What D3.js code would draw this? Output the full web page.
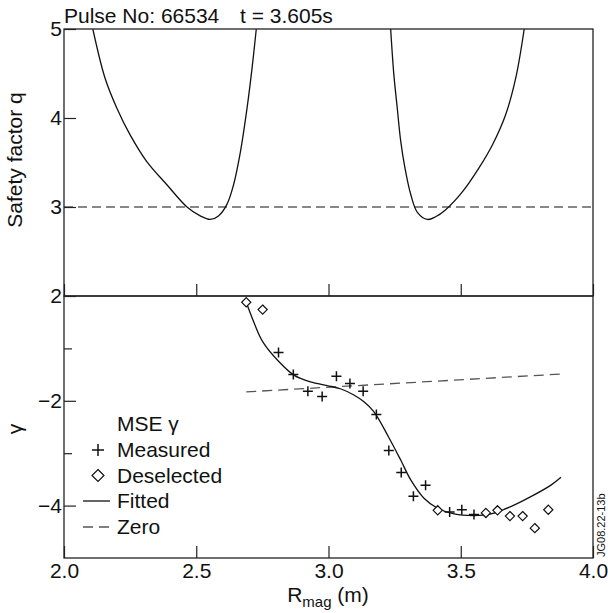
<!DOCTYPE html>
<html lang="en">
<head>
  <meta charset="UTF-8">
  <title>Pulse 66534 - q profile and MSE gamma</title>
  <style>
    body { margin: 0; background: #fff; }
    svg { font-family: "Liberation Sans", Arial, sans-serif; }
    .frame { fill: none; stroke: #222; stroke-width: 1.3px; }
    .axis text { font-family: "Liberation Sans", Arial, sans-serif; font-size: 21px; fill: #111; }
    .axis line { stroke: #222; stroke-width: 1.2px; }
    .q, .fit { fill: none; stroke: #111; stroke-width: 1.3px; }
    .rational { fill: none; stroke: #111; stroke-width: 1.2px; stroke-dasharray: 9 5; }
    .zero { fill: none; stroke: #555; stroke-width: 1.3px; stroke-dasharray: 10 6; }
    .meas { fill: none; stroke: #111; stroke-width: 1.5px; }
    .desel { fill: #fff; stroke: #111; stroke-width: 1.2px; }
    .label { font-size: 21px; fill: #111; }
  </style>
</head>
<body>
  <script src="https://cdn.jsdelivr.net/npm/d3@7"></script>
  <script>
    // q profile, high field side and low field side branches [R, q]
    const qInner = [
      [2.109, 5.0], [2.155, 4.45], [2.200, 4.11], [2.250, 3.81], [2.313, 3.51],
      [2.389, 3.25], [2.465, 3.00], [2.515, 2.90], [2.553, 2.86], [2.584, 2.90],
      [2.616, 3.03], [2.641, 3.25], [2.667, 3.62], [2.692, 4.11], [2.711, 4.56], [2.727, 5.0]
    ];
    const qOuter = [
      [3.235, 5.0], [3.247, 4.49], [3.260, 4.11], [3.273, 3.74], [3.289, 3.44],
      [3.311, 3.14], [3.336, 2.94], [3.374, 2.86], [3.405, 2.89], [3.443, 2.97],
      [3.506, 3.17], [3.569, 3.44], [3.620, 3.70], [3.670, 4.04], [3.708, 4.45], [3.740, 5.0]
    ];
    const qRational = 3;

    // MSE gamma [R, gamma]
    const measured = [
      [2.811, -1.08], [2.867, -1.50], [2.922, -1.82], [2.976, -1.92], [3.030, -1.53],
      [3.081, -1.67], [3.131, -1.82], [3.181, -2.26], [3.228, -2.95], [3.275, -3.37],
      [3.321, -3.82], [3.367, -3.61], [3.458, -4.12], [3.504, -4.08], [3.550, -4.17]
    ];
    const deselected = [
      [2.689, -0.12], [2.751, -0.26], [3.413, -4.09], [3.595, -4.14], [3.639, -4.09],
      [3.686, -4.20], [3.734, -4.20], [3.780, -4.43], [3.831, -4.08]
    ];
    const fitted = [
      [2.689, -0.12], [2.717, -0.49], [2.751, -0.87], [2.812, -1.25], [2.869, -1.51],
      [2.932, -1.64], [2.995, -1.71], [3.045, -1.77], [3.096, -1.89], [3.134, -2.02],
      [3.172, -2.21], [3.227, -2.69], [3.273, -3.13], [3.311, -3.51], [3.361, -3.86],
      [3.412, -4.05], [3.475, -4.16], [3.550, -4.19], [3.614, -4.16], [3.689, -4.02],
      [3.765, -3.83], [3.841, -3.61], [3.879, -3.46]
    ];
    const zeroLine = [[2.689, -1.83], [3.879, -1.49]];

    const xTicks = [2.0, 2.5, 3.0, 3.5, 4.0];
    const qTicks = [2, 3, 4, 5];
    const gMajor = [-4, -2];
    const gMinor = [-3, -1];
    const legendItems = ['Measured', 'Deselected', 'Fitted', 'Zero'];

    const width = 608, height = 613;
    const x = d3.scaleLinear().domain([2, 4]).range([64, 593]);
    const yq = d3.scaleLinear().domain([2, 5]).range([296, 29]);
    const yg = d3.scaleLinear().domain([-5, 0]).range([558, 296]);

    const svg = d3.select('body').append('svg')
      .attr('width', width).attr('height', height);

    svg.append('clipPath').attr('id', 'clipTop')
      .append('rect')
      .attr('x', x(2)).attr('y', yq(5))
      .attr('width', x(4) - x(2)).attr('height', yq(2) - yq(5));

    // top panel
    const topPanel = svg.append('g').attr('clip-path', 'url(#clipTop)');
    topPanel.append('line').attr('class', 'rational')
      .attr('x1', x(2)).attr('x2', x(4))
      .attr('y1', yq(qRational)).attr('y2', yq(qRational));
    const qLine = d3.line().curve(d3.curveCatmullRom.alpha(0.5))
      .x(d => x(d[0])).y(d => yq(d[1]));
    topPanel.selectAll('path.q').data([qInner, qOuter]).enter().append('path')
      .attr('class', 'q')
      .attr('d', d => qLine(d));

    // bottom panel
    const gLine = d3.line().curve(d3.curveCatmullRom.alpha(0.5))
      .x(d => x(d[0])).y(d => yg(d[1]));
    svg.append('path').attr('class', 'zero').attr('d', d3.line().x(d => x(d[0])).y(d => yg(d[1]))(zeroLine));
    svg.append('path').attr('class', 'fit').attr('d', gLine(fitted));

    const cross = 'M-5,0H5M0,-5V5';
    const diamond = 'M0,-4.6L4.6,0L0,4.6L-4.6,0Z';
    svg.append('g').selectAll('path')
      .data(measured).enter().append('path')
      .attr('class', 'meas')
      .attr('transform', d => `translate(${x(d[0])},${yg(d[1])})`)
      .attr('d', cross);
    svg.append('g').selectAll('path')
      .data(deselected).enter().append('path')
      .attr('class', 'desel')
      .attr('transform', d => `translate(${x(d[0])},${yg(d[1])})`)
      .attr('d', diamond);

    // frames
    svg.append('rect').attr('class', 'frame')
      .attr('x', x(2)).attr('y', yq(5))
      .attr('width', x(4) - x(2)).attr('height', yq(2) - yq(5));
    svg.append('rect').attr('class', 'frame')
      .attr('x', x(2)).attr('y', yg(0))
      .attr('width', x(4) - x(2)).attr('height', yg(-5) - yg(0));

    // axes
    const fmt1 = d3.format('.1f');
    svg.append('g').attr('class', 'axis')
      .attr('transform', `translate(0,${yg(-5)})`)
      .call(d3.axisBottom(x).tickValues(xTicks).tickSize(-12).tickPadding(5).tickFormat(fmt1))
      .call(g => g.select('.domain').remove());
    svg.append('g').attr('class', 'axis')
      .attr('transform', `translate(0,${yq(2)})`)
      .call(d3.axisBottom(x).tickValues(xTicks).tickSize(-12).tickFormat(''))
      .call(g => g.select('.domain').remove());
    svg.append('g').attr('class', 'axis')
      .attr('transform', `translate(${x(2)},0)`)
      .call(d3.axisLeft(yq).tickValues(qTicks).tickSize(-12).tickPadding(2).tickFormat(d3.format('d')))
      .call(g => g.select('.domain').remove());
    svg.append('g').attr('class', 'axis')
      .attr('transform', `translate(${x(2)},0)`)
      .call(d3.axisLeft(yg).tickValues(gMajor).tickSize(-12).tickPadding(2).tickFormat(d3.format('d')))
      .call(g => g.select('.domain').remove());
    svg.append('g').attr('class', 'axis')
      .attr('transform', `translate(${x(2)},0)`)
      .call(d3.axisLeft(yg).tickValues(gMinor).tickSize(-8).tickFormat(''))
      .call(g => g.select('.domain').remove());

    // titles
    svg.append('text').attr('class', 'label').attr('x', 64).attr('y', 23).text('Pulse No: 66534');
    svg.append('text').attr('class', 'label').attr('x', 240).attr('y', 23).text('t = 3.605s');
    svg.append('text').attr('class', 'label')
      .attr('transform', 'translate(22,160) rotate(-90)')
      .attr('text-anchor', 'middle').text('Safety factor q');
    svg.append('text').attr('class', 'label')
      .attr('transform', 'translate(22,429) rotate(-90)')
      .attr('text-anchor', 'middle').text('γ');
    const xl = svg.append('text').attr('class', 'label')
      .attr('x', 328).attr('y', 602).attr('text-anchor', 'middle');
    xl.append('tspan').text('R');
    xl.append('tspan').attr('font-size', '15px').attr('dy', 5).text('mag');
    xl.append('tspan').attr('dy', -5).text(' (m)');
    svg.append('text')
      .attr('transform', 'translate(605,557) rotate(-90)')
      .attr('font-size', '11px').attr('fill', '#111').text('JG08.22-13b');

    // legend
    const lg = svg.append('g').attr('transform', 'translate(0,431)');
    lg.append('text').attr('class', 'label').attr('x', 117).attr('y', 0).text('MSE γ');
    lg.selectAll('text.item').data(legendItems).enter().append('text')
      .attr('class', 'label item')
      .attr('x', 117).attr('y', (d, i) => 25.8 * (i + 1))
      .text(d => d);
    lg.append('path').attr('class', 'meas').attr('stroke-width', 2)
      .attr('transform', 'translate(98,19)').attr('d', 'M-6,0H6M0,-6V6');
    lg.append('path').attr('class', 'desel')
      .attr('transform', 'translate(98,44.5)').attr('d', 'M0,-6L6,0L0,6L-6,0Z');
    lg.append('line').attr('class', 'fit')
      .attr('x1', 83).attr('x2', 110).attr('y1', 70).attr('y2', 70);
    lg.append('line').attr('class', 'zero')
      .attr('x1', 83).attr('x2', 110).attr('y1', 96).attr('y2', 96);
  </script>
</body>
</html>
